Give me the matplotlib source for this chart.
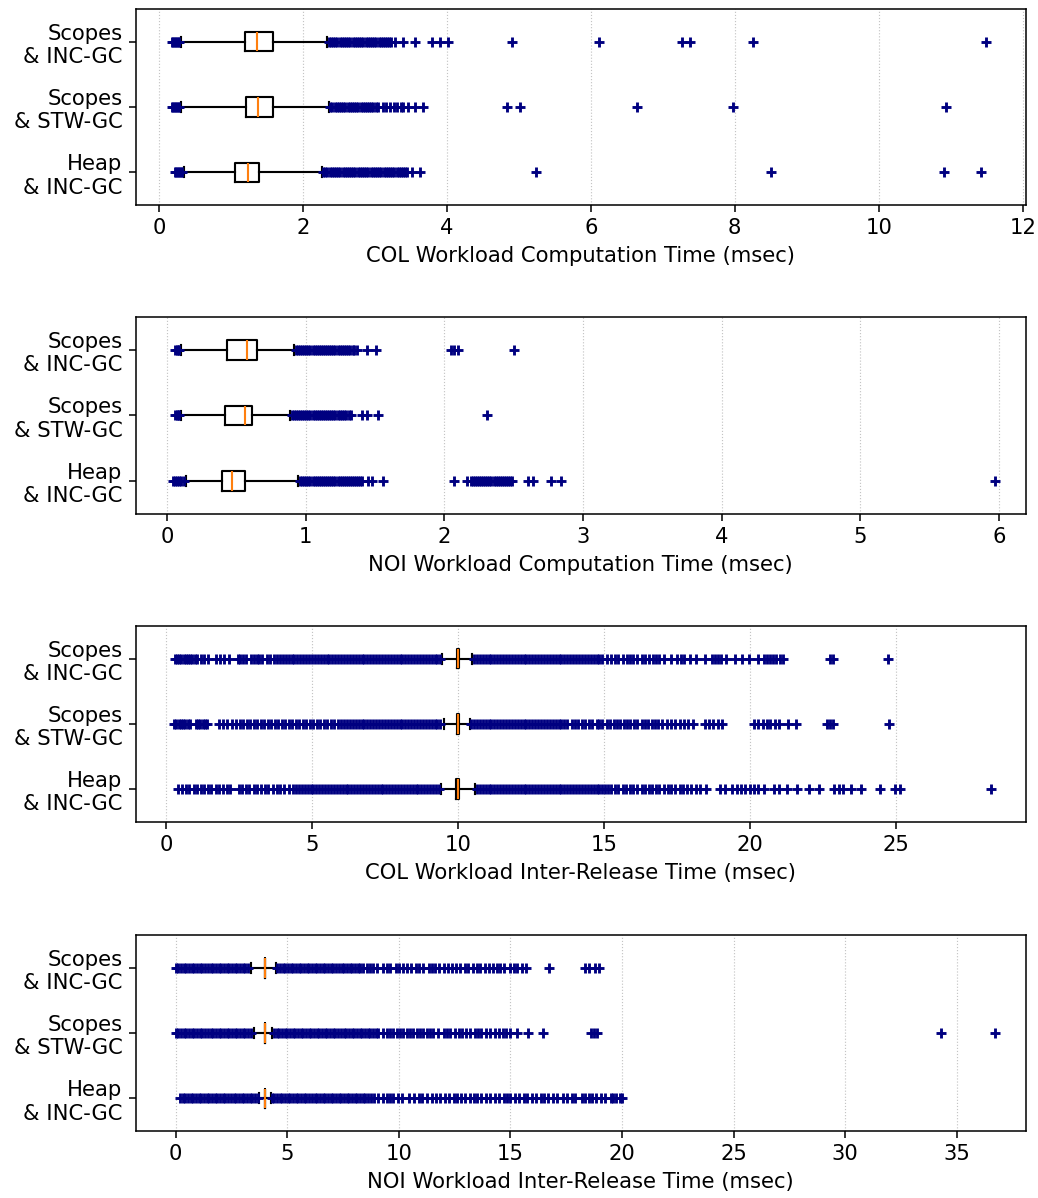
import matplotlib.pyplot as plt

plt.rcParams["font.size"] = 11

labels = ["Scopes\n& INC-GC", "Scopes\n& STW-GC", "Heap\n& INC-GC"]

# --- COL workload computation time (msec) ---
col_comp_lo = [0.31, 0.30, 0.35]
col_comp_q1 = [1.19, 1.21, 1.06]
col_comp_med = [1.36, 1.38, 1.24]
col_comp_q3 = [1.59, 1.59, 1.39]
col_comp_hi = [2.34, 2.36, 2.26]
col_comp_fl_scopes_inc = [0.18, 0.2, 0.22, 0.24, 0.26, 0.28,
    2.36, 2.39, 2.42, 2.45, 2.48, 2.51, 2.54, 2.57, 2.6, 2.63, 2.66, 2.69, 2.72, 2.75, 2.78,
    2.81, 2.84, 2.87, 2.9, 2.93, 2.96, 2.99, 3.02, 3.05, 3.08, 3.11, 3.14, 3.17, 3.2, 3.23,
    3.28, 3.39, 3.56, 3.79, 3.9, 4.01, 4.91, 6.12, 7.26, 7.38, 8.26, 11.49]
col_comp_fl_scopes_stw = [0.18, 0.2, 0.22, 0.24, 0.26, 0.28,
    2.38, 2.41, 2.44, 2.47, 2.5, 2.53, 2.56, 2.59, 2.62, 2.65, 2.68, 2.71, 2.74, 2.77, 2.8,
    2.83, 2.86, 2.89, 2.92, 2.95, 2.98, 3.01, 3.04, 3.11, 3.16, 3.21, 3.26, 3.3, 3.36, 3.39,
    3.46, 3.56, 3.67, 4.84, 5.01, 6.64, 7.98, 10.93]
col_comp_fl_heap_inc = [0.22, 0.24, 0.26, 0.28, 0.3, 0.32,
    2.28, 2.31, 2.34, 2.37, 2.4, 2.43, 2.46, 2.49, 2.52, 2.55, 2.58, 2.61, 2.64, 2.67, 2.7,
    2.73, 2.76, 2.79, 2.82, 2.85, 2.88, 2.91, 2.94, 2.97, 3.0, 3.03, 3.06, 3.09, 3.12, 3.15,
    3.18, 3.21, 3.24, 3.27, 3.3, 3.33, 3.36, 3.39, 3.42, 3.44, 3.51, 3.63, 5.24, 8.51, 10.91, 11.42]

# --- NOI workload computation time (msec) ---
noi_comp_lo = [0.10, 0.10, 0.135]
noi_comp_q1 = [0.43, 0.42, 0.394]
noi_comp_med = [0.574, 0.56, 0.468]
noi_comp_q3 = [0.65, 0.617, 0.56]
noi_comp_hi = [0.917, 0.886, 0.946]
noi_comp_fl_scopes_inc = [0.06, 0.07, 0.08, 0.09,
    0.93, 0.945, 0.96, 0.975, 0.99, 1.005, 1.02, 1.035, 1.05, 1.065, 1.08, 1.095, 1.11, 1.125,
    1.14, 1.155, 1.17, 1.185, 1.2, 1.215, 1.23, 1.245, 1.26, 1.275, 1.29, 1.305, 1.32,
    1.34, 1.35, 1.37, 1.44, 1.51, 2.05, 2.07, 2.1, 2.5]
noi_comp_fl_scopes_stw = [0.06, 0.07, 0.08, 0.09,
    0.9, 0.915, 0.93, 0.945, 0.96, 0.975, 0.99, 1.005, 1.02, 1.035, 1.05, 1.065, 1.08, 1.095,
    1.11, 1.125, 1.14, 1.155, 1.17, 1.185, 1.2, 1.215, 1.23, 1.245, 1.26, 1.275, 1.29,
    1.31, 1.33, 1.41, 1.44, 1.52, 2.31]
noi_comp_fl_heap_inc = [0.045, 0.06, 0.075, 0.09, 0.105, 0.12,
    0.96, 0.975, 0.99, 1.005, 1.02, 1.035, 1.05, 1.065, 1.08, 1.095, 1.11, 1.125, 1.14, 1.155,
    1.17, 1.185, 1.2, 1.215, 1.23, 1.245, 1.26, 1.275, 1.29, 1.305, 1.32, 1.335, 1.35, 1.365,
    1.38, 1.395, 1.41, 1.45, 1.48, 1.56, 2.07, 2.16, 2.19,
    2.205, 2.22, 2.235, 2.25, 2.265, 2.28, 2.295, 2.31, 2.325, 2.34, 2.355, 2.37, 2.385, 2.4,
    2.415, 2.43, 2.445, 2.46, 2.475, 2.49, 2.6, 2.64, 2.77, 2.84, 5.97]

# --- COL workload inter-release time (msec) ---
col_irt_lo = [9.46, 9.52, 9.41]
col_irt_q1 = [9.97, 9.97, 9.92]
col_irt_med = [10.0, 10.0, 10.0]
col_irt_q3 = [10.03, 10.03, 10.04]
col_irt_hi = [10.49, 10.40, 10.60]
col_irt_fl_scopes_inc = [0.31, 0.38, 0.45, 0.52, 0.6, 0.68, 0.75, 0.82, 0.9, 0.98, 1.05, 1.2,
    1.3, 1.45, 1.7, 1.85, 2.0, 2.15, 2.45, 2.55, 2.65, 2.75, 2.9, 3.0, 3.1, 3.2, 3.3, 3.45, 3.55,
    3.7, 3.8, 3.9, 4.0, 4.1, 4.2, 4.3, 4.4, 4.5, 4.6, 4.7, 4.8, 4.9,
    5.0, 5.1, 5.2, 5.3, 5.4, 5.5, 5.6, 5.7, 5.8, 5.9, 6.0, 6.1, 6.2, 6.3, 6.4, 6.5, 6.6, 6.7,
    6.8, 6.9, 7.0, 7.1, 7.2, 7.3, 7.4, 7.5, 7.6, 7.7, 7.8, 7.9, 8.0, 8.1, 8.2, 8.3, 8.4, 8.5,
    8.6, 8.7, 8.8, 8.9, 9.0, 9.1, 9.2, 9.3, 9.4,
    10.55, 10.65, 10.75, 10.85, 10.95, 11.05, 11.15, 11.25, 11.35, 11.45, 11.55, 11.65, 11.75,
    11.85, 11.95, 12.05, 12.15, 12.25, 12.35, 12.45, 12.55, 12.65, 12.75, 12.85, 12.95, 13.05,
    13.15, 13.25, 13.35, 13.45, 13.55, 13.65, 13.75, 13.85, 13.95, 14.05, 14.15, 14.25, 14.35,
    14.45, 14.55, 14.65, 14.75, 14.85, 14.95,
    15.1, 15.25, 15.4, 15.5, 15.65, 15.8, 15.9, 16.0, 16.15, 16.3, 16.4, 16.55, 16.7, 16.8,
    16.9, 17.05, 17.3, 17.5, 17.65, 17.75, 17.95, 18.17, 18.46, 18.7, 18.8, 18.9, 19.0, 19.2,
    19.5, 19.73, 19.96, 20.3, 20.48, 20.6, 20.7, 20.8, 20.9, 21.05, 21.15, 22.75, 22.85, 24.75]
col_irt_fl_scopes_stw = [0.27, 0.35, 0.43, 0.5, 0.58, 0.66, 0.74, 0.82, 1.02, 1.1, 1.18, 1.26,
    1.34, 1.42, 1.8, 1.95, 2.1, 2.25, 2.4, 2.52, 2.64, 2.76, 2.88, 3.0, 3.12, 3.24, 3.36, 3.48,
    3.6, 3.72, 3.84, 3.96, 4.08, 4.2, 4.32, 4.44, 4.56, 4.68, 4.8, 4.92, 5.04, 5.16, 5.28, 5.4,
    5.52, 5.64, 5.76, 5.88,
    6.0, 6.1, 6.2, 6.3, 6.4, 6.5, 6.6, 6.7, 6.8, 6.9, 7.0, 7.1, 7.2, 7.3, 7.4, 7.5, 7.6, 7.7,
    7.8, 7.9, 8.0, 8.1, 8.2, 8.3, 8.4, 8.5, 8.6, 8.7, 8.8, 8.9, 9.0, 9.1, 9.2, 9.3, 9.4,
    10.45, 10.55, 10.65, 10.75, 10.85, 10.95, 11.05, 11.15, 11.25, 11.35, 11.45, 11.55, 11.65,
    11.75, 11.85, 11.95, 12.05, 12.15, 12.25, 12.35, 12.45, 12.55, 12.65, 12.75, 12.85, 12.95,
    13.05, 13.15, 13.25, 13.35, 13.45, 13.55, 13.65, 13.75,
    13.9, 14.0, 14.1, 14.25, 14.35, 14.5, 14.6, 14.75, 14.85, 14.95, 15.1, 15.2, 15.35, 15.45,
    15.55, 15.7, 15.8, 15.9, 16.05, 16.15, 16.3, 16.4, 16.5, 16.65, 16.75, 16.85, 17.0, 17.15,
    17.3, 17.45, 17.6, 17.75, 17.9, 18.05, 18.45, 18.6, 18.75, 18.9, 19.05,
    20.15, 20.3, 20.45, 20.6, 20.7, 20.85, 21.0, 21.3, 21.6, 22.65, 22.75, 22.85, 24.77]
col_irt_fl_heap_inc = [0.42, 0.55, 0.7, 0.8, 0.95, 1.05, 1.2, 1.3, 1.45, 1.55, 1.7, 1.8, 1.95,
    2.1, 2.2, 2.5, 2.6, 2.75, 2.85, 3.0, 3.1, 3.25, 3.4, 3.5, 3.65, 3.8, 3.9, 4.05, 4.2,
    4.35, 4.45, 4.55, 4.65, 4.75, 4.85, 4.95, 5.05, 5.15, 5.25, 5.35, 5.45, 5.55, 5.65, 5.75,
    5.85, 5.95, 6.05, 6.15, 6.25, 6.35, 6.45, 6.55, 6.65, 6.75, 6.85, 6.95, 7.05, 7.15, 7.25,
    7.35, 7.45, 7.55, 7.65, 7.75, 7.85, 7.95, 8.05, 8.15, 8.25, 8.35, 8.45, 8.55, 8.65, 8.75,
    8.85, 8.95, 9.05, 9.15, 9.25, 9.35,
    10.65, 10.75, 10.85, 10.95, 11.05, 11.15, 11.25, 11.35, 11.45, 11.55, 11.65, 11.75, 11.85,
    11.95, 12.05, 12.15, 12.25, 12.35, 12.45, 12.55, 12.65, 12.75, 12.85, 12.95, 13.05, 13.15,
    13.25, 13.35, 13.45, 13.55, 13.65, 13.75, 13.85, 13.95, 14.05, 14.15, 14.25, 14.35, 14.45,
    14.55, 14.65, 14.75, 14.85, 14.95, 15.05, 15.15, 15.25,
    15.4, 15.5, 15.65, 15.75, 15.9, 16.0, 16.15, 16.3, 16.4, 16.55, 16.65, 16.8, 16.9, 17.05,
    17.2, 17.3, 17.45, 17.6, 17.7, 17.85, 18.0, 18.15, 18.3, 18.5, 18.97, 19.15, 19.4, 19.55,
    19.7, 19.85, 20.0, 20.15, 20.3, 20.48, 20.82, 21.0, 21.29, 21.63, 22.04, 22.38, 22.9, 23.07,
    23.19, 23.48, 23.8, 24.46, 24.98, 25.15, 28.26]

# --- NOI workload inter-release time (msec) ---
noi_irt_lo = [3.36, 3.50, 3.74]
noi_irt_q1 = [3.99, 3.99, 3.98]
noi_irt_med = [4.0, 4.0, 4.0]
noi_irt_q3 = [4.01, 4.01, 4.01]
noi_irt_hi = [4.48, 4.33, 4.25]
noi_irt_fl_scopes_inc = [0.0, 0.12, 0.24, 0.36, 0.48, 0.6, 0.72, 0.84, 0.96, 1.08, 1.2, 1.32,
    1.44, 1.56, 1.68, 1.8, 1.92, 2.04, 2.16, 2.28, 2.4, 2.52, 2.64, 2.76, 2.88, 3.0, 3.12, 3.24,
    4.55, 4.67, 4.79, 4.91, 5.03, 5.15, 5.27, 5.39, 5.51, 5.63, 5.75, 5.87, 5.99, 6.11, 6.23,
    6.35, 6.47, 6.59, 6.71, 6.83, 6.95, 7.07, 7.19, 7.31, 7.43, 7.55, 7.67, 7.79, 7.91, 8.03,
    8.15, 8.25, 8.4, 8.55, 8.7, 8.85, 9.0,
    9.3, 9.45, 9.6, 9.85, 10.0, 10.2, 10.35, 10.55, 10.75, 10.9, 11.1, 11.35, 11.5, 11.6, 11.8,
    12.0, 12.2, 12.4, 12.55, 12.75, 12.95, 13.1, 13.3, 13.5, 13.65, 13.85, 14.05, 14.2, 14.4,
    14.55, 14.7, 15.0, 15.15, 15.3, 15.5, 15.7, 16.73, 18.36, 18.5, 18.8, 18.97]
noi_irt_fl_scopes_stw = [0.0, 0.12, 0.24, 0.36, 0.48, 0.6, 0.72, 0.84, 0.96, 1.08, 1.2, 1.32,
    1.44, 1.56, 1.68, 1.8, 1.92, 2.04, 2.16, 2.28, 2.4, 2.52, 2.64, 2.76, 2.88, 3.0, 3.12, 3.24,
    3.36,
    4.4, 4.52, 4.64, 4.76, 4.88, 5.0, 5.12, 5.24, 5.36, 5.48, 5.6, 5.72, 5.84, 5.96, 6.08, 6.2,
    6.32, 6.44, 6.56, 6.68, 6.8, 6.92, 7.04, 7.16, 7.28, 7.4, 7.52, 7.64, 7.76, 7.88, 8.0, 8.12,
    8.24, 8.36, 8.48, 8.6, 8.72, 8.84, 8.96, 9.08,
    9.3, 9.45, 9.6, 9.75, 9.9, 10.05, 10.2, 10.35, 10.5, 10.65, 10.8, 10.95, 11.1, 11.25, 11.4,
    11.55, 11.75, 12.0, 12.15, 12.3, 12.5, 12.7, 12.85, 13.0, 13.2, 13.4, 13.55, 13.7, 13.9,
    14.1, 14.3, 14.5, 14.65, 14.8, 15.0, 15.3, 15.8, 16.46, 18.6, 18.75, 18.9, 34.3, 36.73]
noi_irt_fl_heap_inc = [0.19, 0.31, 0.43, 0.55, 0.67, 0.79, 0.91, 1.03, 1.15, 1.27, 1.39, 1.51,
    1.63, 1.75, 1.87, 1.99, 2.11, 2.23, 2.35, 2.47, 2.59, 2.71, 2.83, 2.95, 3.07, 3.19, 3.31,
    3.43, 3.55, 3.67,
    4.3, 4.42, 4.54, 4.66, 4.78, 4.9, 5.02, 5.14, 5.26, 5.38, 5.5, 5.62, 5.74, 5.86, 5.98, 6.1,
    6.22, 6.34, 6.46, 6.58, 6.7, 6.82, 6.94, 7.06, 7.18, 7.3, 7.42, 7.54, 7.66, 7.78, 7.9, 8.02,
    8.14, 8.26, 8.38, 8.5, 8.62, 8.74,
    8.9, 9.05, 9.3, 9.45, 9.6, 9.75, 9.95, 10.15, 10.45, 10.7, 10.9, 11.05, 11.25, 11.5, 11.65,
    11.85, 12.05, 12.25, 12.45, 12.6, 12.8, 12.95, 13.2, 13.35, 13.5, 13.7, 13.9, 14.1, 14.3,
    14.5, 14.7, 14.85, 15.0, 15.2, 15.4, 15.6, 15.75, 15.95, 16.15, 16.35, 16.5, 16.7, 16.9,
    17.1, 17.35, 17.55, 17.75, 17.9, 18.2, 18.35, 18.5, 18.65, 18.85, 19.05, 19.25, 19.5, 19.6,
    19.75, 19.9, 20.0]


def draw(ax, lo, q1, med, q3, hi, fliers, xlabel, xlim, xticks):
    stats = []
    for i in range(3):
        stats.append(dict(whislo=lo[i], q1=q1[i], med=med[i], q3=q3[i],
                          whishi=hi[i], fliers=fliers[i]))
    parts = ax.bxp(stats, positions=[3, 2, 1], widths=0.3, orientation="horizontal",
                   boxprops=dict(linewidth=1.1), whiskerprops=dict(linewidth=1.1),
                   capprops=dict(linewidth=1.1), medianprops=dict(linewidth=1.1),
                   flierprops=dict(marker="+", markeredgecolor="navy", markersize=5.5,
                                   markeredgewidth=1.5, linestyle="none"))
    for fl in parts["fliers"]:
        fl.set_snap(False)
    ax.set_yticks([3, 2, 1], labels)
    ax.set_ylim(0.5, 3.5)
    ax.set_xticks(xticks)
    ax.set_xticklabels([str(t) for t in xticks])
    ax.set_xlim(xlim)
    ax.set_xlabel(xlabel)
    ax.grid(axis="x", linestyle=":", color="#c4c4c4", linewidth=0.6)
    ax.set_axisbelow(True)


fig = plt.figure(figsize=(1038 / 138.4, 1198 / 138.4), dpi=138.4)

ax1 = fig.add_axes([0.131, 0.8289, 0.857, 0.1636])
draw(ax1, col_comp_lo, col_comp_q1, col_comp_med, col_comp_q3, col_comp_hi,
     [col_comp_fl_scopes_inc, col_comp_fl_scopes_stw, col_comp_fl_heap_inc],
     "COL Workload Computation Time (msec)", (-0.32, 12.04), [0, 2, 4, 6, 8, 10, 12])

ax2 = fig.add_axes([0.131, 0.5710, 0.857, 0.1644])
draw(ax2, noi_comp_lo, noi_comp_q1, noi_comp_med, noi_comp_q3, noi_comp_hi,
     [noi_comp_fl_scopes_inc, noi_comp_fl_scopes_stw, noi_comp_fl_heap_inc],
     "NOI Workload Computation Time (msec)", (-0.223, 6.19), [0, 1, 2, 3, 4, 5, 6])

ax3 = fig.add_axes([0.131, 0.3139, 0.857, 0.1636])
draw(ax3, col_irt_lo, col_irt_q1, col_irt_med, col_irt_q3, col_irt_hi,
     [col_irt_fl_scopes_inc, col_irt_fl_scopes_stw, col_irt_fl_heap_inc],
     "COL Workload Inter-Release Time (msec)", (-1.03, 29.45), [0, 5, 10, 15, 20, 25])

ax4 = fig.add_axes([0.131, 0.0559, 0.857, 0.1636])
draw(ax4, noi_irt_lo, noi_irt_q1, noi_irt_med, noi_irt_q3, noi_irt_hi,
     [noi_irt_fl_scopes_inc, noi_irt_fl_scopes_stw, noi_irt_fl_heap_inc],
     "NOI Workload Inter-Release Time (msec)", (-1.78, 38.08), [0, 5, 10, 15, 20, 25, 30, 35])

fig.savefig("out.png", dpi=138.4)
